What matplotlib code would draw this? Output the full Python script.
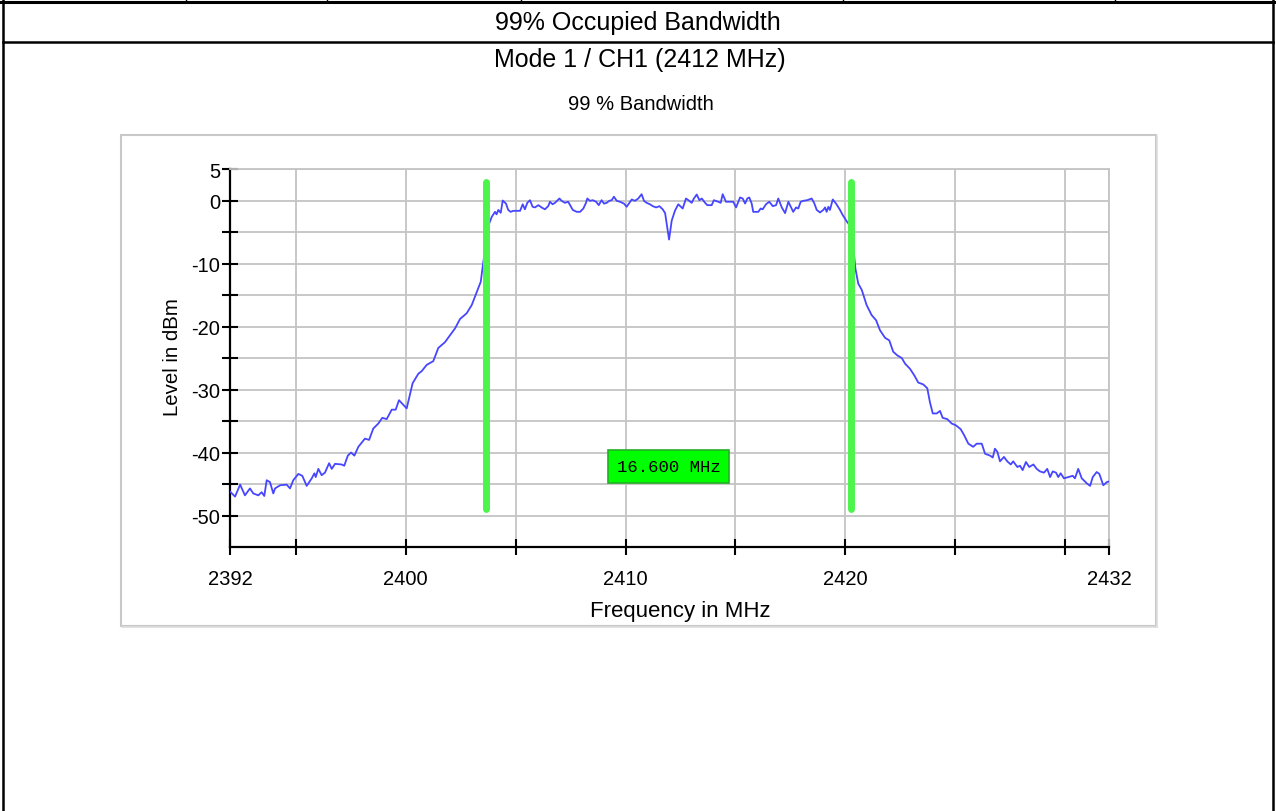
import matplotlib
matplotlib.use('Agg')
import matplotlib.pyplot as plt
from matplotlib.lines import Line2D
from matplotlib.patches import Rectangle

plt.rcParams['font.family'] = ['Liberation Sans', 'DejaVu Sans']

# ---------------- data ----------------
page_title = "99% Occupied Bandwidth"
mode_title = "Mode 1 / CH1 (2412 MHz)"
chart_title = "99 % Bandwidth"
x_label = "Frequency in MHz"
y_label = "Level in dBm"

freq = [
    2392.00, 2392.23, 2392.46, 2392.68, 2392.91, 2393.06, 2393.29, 2393.44, 2393.56, 2393.67,
    2393.82, 2393.97, 2394.05, 2394.28, 2394.58, 2394.73, 2394.88, 2395.11, 2395.29, 2395.49,
    2395.72, 2395.84, 2395.90, 2396.02, 2396.17, 2396.32, 2396.51, 2396.63, 2396.78, 2397.08,
    2397.20, 2397.36, 2397.51, 2397.66, 2397.84, 2398.14, 2398.33, 2398.52, 2398.75, 2398.93,
    2399.13, 2399.36, 2399.54, 2399.69, 2400.04, 2400.31, 2400.57, 2400.72, 2400.95, 2401.25,
    2401.48, 2401.78, 2402.01, 2402.24, 2402.47, 2402.77, 2403.00, 2403.23, 2403.41, 2403.53,
    2403.65, 2403.78, 2403.91, 2404.06, 2404.13, 2404.21, 2404.32, 2404.41, 2404.56, 2404.66,
    2404.77, 2404.89, 2405.20, 2405.32, 2405.42, 2405.53, 2405.65, 2405.77, 2405.88, 2406.03,
    2406.18, 2406.33, 2406.48, 2406.56, 2406.68, 2406.79, 2406.99, 2407.09, 2407.24, 2407.39,
    2407.60, 2407.78, 2407.93, 2408.08, 2408.20, 2408.26, 2408.38, 2408.51, 2408.66, 2408.78,
    2408.91, 2409.02, 2409.14, 2409.26, 2409.37, 2409.47, 2409.60, 2409.75, 2409.93, 2410.05,
    2410.28, 2410.43, 2410.58, 2410.73, 2410.84, 2410.96, 2411.11, 2411.24, 2411.39, 2411.54,
    2411.69, 2411.80, 2411.98, 2412.10, 2412.25, 2412.40, 2412.60, 2412.75, 2412.86, 2413.01,
    2413.11, 2413.24, 2413.36, 2413.47, 2413.62, 2413.72, 2413.92, 2414.02, 2414.22, 2414.33,
    2414.42, 2414.57, 2414.75, 2414.90, 2415.03, 2415.21, 2415.33, 2415.44, 2415.54, 2415.63,
    2415.74, 2415.81, 2416.04, 2416.15, 2416.24, 2416.39, 2416.54, 2416.70, 2416.85, 2416.95,
    2417.11, 2417.26, 2417.41, 2417.52, 2417.63, 2417.76, 2417.86, 2417.97, 2418.09, 2418.27,
    2418.47, 2418.58, 2418.70, 2418.85, 2419.00, 2419.08, 2419.15, 2419.23, 2419.30, 2419.43,
    2419.58, 2419.76, 2419.88, 2419.99, 2420.10, 2420.15, 2420.25, 2420.37, 2420.46, 2420.59,
    2420.75, 2420.97, 2421.20, 2421.40, 2421.58, 2421.81, 2422.00, 2422.18, 2422.37, 2422.57,
    2422.72, 2422.94, 2423.13, 2423.32, 2423.55, 2423.73, 2423.85, 2423.98, 2424.16, 2424.31,
    2424.43, 2424.64, 2424.84, 2425.04, 2425.25, 2425.40, 2425.60, 2425.82, 2425.98, 2426.21,
    2426.36, 2426.59, 2426.71, 2426.81, 2426.92, 2427.04, 2427.22, 2427.37, 2427.53, 2427.64,
    2427.83, 2427.95, 2428.07, 2428.22, 2428.37, 2428.56, 2428.71, 2428.86, 2429.04, 2429.19,
    2429.32, 2429.44, 2429.59, 2429.69, 2429.80, 2429.95, 2430.15, 2430.35, 2430.45, 2430.60,
    2430.76, 2430.99, 2431.14, 2431.26, 2431.44, 2431.56, 2431.74, 2431.90, 2432.00,
]
level = [
    -46.2, -47.0, -45.1, -46.8, -45.7, -46.5, -46.8, -46.3, -46.9, -44.4,
    -44.7, -46.5, -45.7, -45.2, -45.1, -45.7, -44.4, -43.4, -43.7, -45.3,
    -44.1, -43.3, -43.9, -42.6, -43.6, -43.2, -41.7, -42.6, -41.8, -41.9,
    -42.1, -40.5, -40.0, -40.5, -39.1, -37.8, -38.0, -36.2, -35.4, -34.5,
    -34.7, -33.2, -33.2, -31.7, -33.0, -29.0, -27.5, -27.1, -26.1, -25.5,
    -23.4, -22.5, -21.4, -20.3, -18.8, -17.9, -16.6, -14.5, -12.9, -9.7,
    -7.1, -3.8, -2.6, -1.8, -2.2, -1.5, -1.95, 0.0, -0.5, -1.5,
    -1.8, -1.64, -1.64, -0.6, -1.4, -0.37, 0.05, -1.0, -1.1, -0.74,
    -1.1, -1.4, -0.9, -0.2, -0.6, -0.37, 0.32, -0.05, -0.37, -0.2,
    -1.5, -1.8, -1.8, -1.27, -0.37, 0.32, -0.05, 0.05, -0.2, -0.74,
    0.05, -0.5, -0.37, -0.05, 0.05, 0.6, -0.05, -0.2, -0.5, -1.0,
    0.16, -0.05, 0.32, 1.0, -0.05, -0.37, -0.6, -0.9, -1.1, -0.9,
    -1.4, -2.0, -6.2, -3.2, -1.6, -0.6, -1.27, 0.32, 0.05, -0.37,
    0.32, 0.95, 0.05, 0.32, -0.37, -0.74, -0.74, 0.05, -0.2, -0.37,
    1.0, -0.2, -0.2, -0.2, -1.1, 0.48, 0.32, -0.48, 0.32, 0.48,
    -0.48, -1.8, -1.8, -1.27, -1.4, -0.6, -0.2, -0.9, -0.74, 0.32,
    -1.1, -2.0, -0.2, -1.0, -1.8, -1.1, -1.27, -0.2, -0.05, 0.05,
    0.32, -0.37, -1.5, -1.9, -1.5, -1.1, -1.8, -1.0, -1.5, 0.16,
    -0.5, -1.5, -2.3, -2.9, -3.5, -3.65, -5.5, -7.6, -10.8, -13.2,
    -14.2, -16.6, -18.2, -19.0, -20.6, -21.8, -22.2, -24.0, -24.6, -25.0,
    -25.9, -26.7, -27.7, -28.9, -29.2, -29.8, -32.0, -33.8, -33.8, -33.4,
    -34.5, -34.7, -35.4, -35.7, -36.3, -37.2, -38.6, -39.1, -38.6, -38.6,
    -40.2, -40.5, -40.8, -39.4, -39.9, -41.4, -40.7, -41.4, -41.9, -41.4,
    -42.3, -42.1, -42.8, -41.5, -42.3, -41.9, -42.6, -43.0, -43.2, -42.6,
    -43.9, -43.0, -43.2, -43.9, -43.3, -44.1, -43.9, -43.7, -44.1, -42.6,
    -44.1, -44.9, -45.3, -43.9, -43.1, -43.4, -45.2, -44.7, -44.6,
]

obw_lower = 2403.65
obw_upper = 2420.25
obw_label = "16.600 MHz"
marker_top = 3.0
marker_bottom = -49.0
label_level = -42.2

x_ticks = [2392, 2395, 2400, 2405, 2410, 2415, 2420, 2425, 2430, 2432]
x_tick_labels = ['2392', '', '2400', '', '2410', '', '2420', '', '', '2432']
y_ticks = [-50, -45, -40, -35, -30, -25, -20, -15, -10, -5, 0, 5]
y_tick_labels = ['-50', '', '-40', '', '-30', '', '-20', '', '-10', '', '0', '5']
x_range = (2392, 2432)
y_range = (-55, 5)

# ---------------- figure ----------------
W, H = 1276, 812
fig = plt.figure(figsize=(W / 100, H / 100), dpi=100)
fig.patch.set_facecolor('white')


def fx(px):
    return px / W


def fy(py):
    return 1 - py / H


def hline(y, x0, x1, lw=2.0, color='black'):
    fig.add_artist(Line2D([fx(x0), fx(x1)], [fy(y), fy(y)], color=color, lw=lw,
                          transform=fig.transFigure))


def vline(x, y0, y1, lw=2.0, color='black'):
    fig.add_artist(Line2D([fx(x), fx(x)], [fy(y0), fy(y1)], color=color, lw=lw,
                          transform=fig.transFigure))


# page table borders
hline(3, 0, W, lw=2.2)
hline(43, 3, 1273, lw=1.8)
vline(3, 0, H, lw=1.8)
vline(1273, 0, H, lw=1.8)
for xv in [186, 327, 521, 843, 1115]:
    vline(xv, 0, 3, lw=1.0)

fig.text(fx(638), fy(23), page_title, ha='center', va='center', fontsize=18)
fig.text(fx(640), fy(60), mode_title, ha='center', va='center', fontsize=18)
fig.text(fx(641), fy(104), chart_title, ha='center', va='center', fontsize=14.5)

# chart frame
fig.add_artist(Rectangle((fx(121), fy(627)), fx(1156) - fx(121), fy(136) - fy(627),
                         transform=fig.transFigure, fill=False, edgecolor='#c8c8c8', lw=1.5))
hline(628, 122, 1157, lw=1.2, color='#dddddd')
vline(1157, 137, 628, lw=1.2, color='#dddddd')

# axes
ax = fig.add_axes([fx(230), fy(548), fx(1109) - fx(230), fy(170) - fy(548)])
ax.set_xlim(*x_range)
ax.set_ylim(*y_range)
ax.set_xticks(x_ticks)
ax.set_xticklabels(x_tick_labels)
ax.set_yticks(y_ticks)
ax.set_yticklabels(y_tick_labels)
ax.grid(True, color='#c4c4c4', lw=1.3, zorder=0)
ax.set_axisbelow(True)
for side in ['top', 'right']:
    ax.spines[side].set_color('#c4c4c4')
    ax.spines[side].set_linewidth(1.3)
for side in ['left', 'bottom']:
    ax.spines[side].set_color('black')
    ax.spines[side].set_linewidth(1.6)
ax.tick_params(axis='both', direction='inout', length=11, width=1.5, labelsize=14.5,
               colors='black')
ax.tick_params(axis='x', pad=10)
ax.tick_params(axis='y', pad=1.5)

ax.plot(freq, level, color='#4646ff', lw=1.3, zorder=3)
for f in (obw_lower, obw_upper):
    ax.plot([f, f], [marker_top, marker_bottom], color='#4cf44c', lw=5,
            solid_capstyle='round', zorder=4)

ax.text((obw_lower + obw_upper) / 2, label_level, obw_label, ha='center', va='center',
        fontsize=12.5, family=['Liberation Mono', 'DejaVu Sans Mono'], color='black', zorder=5,
        bbox=dict(boxstyle='square,pad=0.5', facecolor='#00ff00', edgecolor='#22b022', lw=1.2))

fig.text(fx(680), fy(611), x_label, ha='center', va='center', fontsize=16)
fig.text(fx(172), fy(357), y_label, ha='center', va='center', fontsize=14.7, rotation=90)

fig.savefig('out.png', dpi=100)
